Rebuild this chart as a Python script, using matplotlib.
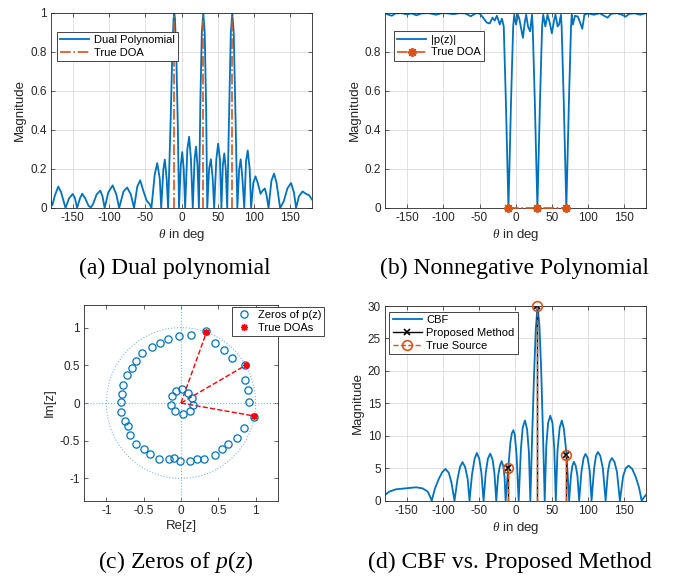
import numpy as np
import matplotlib
matplotlib.use("Agg")
import matplotlib.pyplot as plt

plt.rcParams['font.family'] = ['Liberation Sans', 'DejaVu Sans']
plt.rcParams['mathtext.fontset'] = 'custom'
plt.rcParams['mathtext.rm'] = 'Liberation Serif'
plt.rcParams['mathtext.it'] = 'Liberation Serif:italic'
plt.rcParams['axes.unicode_minus'] = False

BLUE = '#0072BD'
ORANGE = '#D95319'
DARK = '#262626'

# ---------------- data ----------------
true_doa = [-10, 30, 70]

# (a) dual polynomial magnitude
dual_theta = [-180, -178, -175, -170, -166, -160, -155, -150, -147, -144, -140, -137, -133, -128, -125,
              -122, -117, -112, -109, -106, -101, -95, -90, -86, -80, -75, -70, -65.5, -61, -57, -52,
              -48, -44, -41.5, -37, -33.5, -30, -28, -25, -23, -20.5, -18.5, -15, -13, -11, -10, -9,
              -7, -5, -3.5, -1, 1, 3, 5, 8, 10.5, 13, 15.5, 18, 20, 22, 24, 26, 28, 30, 32, 34, 35.5,
              38, 40.5, 43, 45, 48, 50.5, 53, 55, 57, 59, 61, 63, 66, 68, 70, 72, 74, 77, 79.5, 81.6,
              84, 86.5, 89, 91.3, 94, 96, 99, 102, 105, 109, 112, 115, 117.5, 120, 124, 127.6, 131,
              136, 141, 146, 151, 155, 158, 162, 167, 171, 176, 180]
dual_mag = [0.03, 0.015, 0.06, 0.11, 0.08, 0.0, 0.05, 0.072, 0.05, 0.0, 0.05, 0.073, 0.05, 0.01, 0.003,
            0.02, 0.07, 0.089, 0.06, 0.0, 0.08, 0.116, 0.07, 0.0, 0.085, 0.105, 0.07, 0.0, 0.11, 0.142,
            0.08, 0.037, 0.02, 0.0, 0.17, 0.23, 0.15, 0.0, 0.2, 0.248, 0.15, 0.0, 0.45, 0.75, 0.97, 1.0,
            0.97, 0.75, 0.4, 0.0, 0.22, 0.287, 0.2, 0.0, 0.3, 0.365, 0.25, 0.0, 0.25, 0.315, 0.22, 0.0,
            0.55, 0.9, 1.0, 0.9, 0.5, 0.0, 0.2, 0.25, 0.15, 0.0, 0.25, 0.33, 0.25, 0.0, 0.22, 0.28, 0.2,
            0.0, 0.55, 0.9, 1.0, 0.9, 0.55, 0.0, 0.2, 0.25, 0.15, 0.0, 0.24, 0.295, 0.2, 0.0, 0.13,
            0.162, 0.13, 0.073, 0.09, 0.10, 0.06, 0.0, 0.14, 0.176, 0.13, 0.0, 0.034, 0.1, 0.128, 0.08,
            0.0, 0.06, 0.085, 0.074, 0.065, 0.043]

# (b) nonnegative polynomial |p(z)|
pz_theta = [-180, -176, -171, -166, -158, -150, -144, -137, -130, -120, -110, -102, -94, -86, -78, -70,
            -62, -55, -50, -45, -40, -36, -32, -29, -26, -22, -19, -16.5, -13.6, -10, -6.4, -3.5, -2,
            0.5, 3, 5, 7, 10, 12.5, 14.5, 17, 20, 22.5, 23.5, 26.4, 30, 33.6, 36.5, 38, 41, 44, 47, 50,
            53, 55, 58, 60, 62.5, 63.5, 66.4, 70, 73.6, 76.5, 77.5, 79, 82, 86, 89, 92, 95, 100, 108,
            116, 122, 127, 132, 140, 147, 152, 157, 165, 172, 180]
pz_mag = [0.998, 0.99, 0.985, 0.997, 0.998, 0.992, 0.997, 0.987, 0.997, 0.998, 0.99, 0.998, 0.997,
          0.993, 0.998, 0.997, 0.982, 0.998, 0.997, 0.975, 0.95, 0.945, 0.975, 0.96, 0.985, 0.94, 0.97,
          0.93, 0.55, 0.0, 0.55, 0.93, 0.99, 0.94, 0.99, 0.97, 0.93, 0.872, 0.95, 0.99, 0.93, 0.905,
          0.99, 0.93, 0.55, 0.0, 0.55, 0.93, 0.99, 0.93, 0.99, 0.95, 0.895, 0.96, 0.99, 0.93, 0.94,
          0.99, 0.93, 0.55, 0.0, 0.55, 0.93, 0.99, 0.94, 0.985, 0.98, 0.95, 0.918, 0.99, 0.997, 0.99,
          0.998, 0.985, 0.975, 0.995, 0.998, 0.99, 0.98, 0.995, 0.997, 0.99, 0.998]

# (c) zeros of p(z)
zeros_re = [-0.03, 0.13, 0.33, 0.46, 0.58, 0.68, 0.86, 0.86, 0.90, 0.91, 0.98, 0.84, 0.75, 0.63, 0.55,
            0.45, 0.31, 0.21, 0.12, -0.01, -0.09, -0.16, -0.29, -0.41, -0.50, -0.60, -0.68, -0.71,
            -0.75, -0.80, -0.80, -0.79, -0.78, -0.73, -0.66, -0.60, -0.52, -0.39, -0.28, -0.17,
            0.02, -0.06, -0.12, -0.13, -0.08, 0.03, 0.12, 0.16, 0.15, 0.09]
zeros_im = [0.89, 0.90, 0.95, 0.79, 0.70, 0.60, 0.51, 0.31, 0.17, 0.02, -0.18, -0.33, -0.46, -0.54,
            -0.61, -0.69, -0.74, -0.74, -0.77, -0.77, -0.73, -0.74, -0.74, -0.68, -0.61, -0.54, -0.42,
            -0.31, -0.24, -0.12, 0.02, 0.12, 0.24, 0.37, 0.47, 0.56, 0.67, 0.74, 0.79, 0.85,
            0.18, 0.16, 0.09, -0.02, -0.10, -0.15, -0.10, -0.03, 0.07, 0.13]

# (d) CBF vs proposed
cbf_theta = [-180, -174, -165, -151, -137, -128, -121, -118, -115.5, -111, -106, -101, -96.6, -92,
             -88.5, -84.1, -80, -76.5, -73, -69.5, -66, -63.4, -60, -56.5, -53.3, -50, -47, -44, -41,
             -38, -34.8, -31.5, -29, -26.5, -24, -21.5, -19.1, -16.5, -15, -13.6, -10, -7, -5, -3, -1,
             1.5, 4.4, 7.5, 10, 13.1, 16, 18.5, 20.5, 23, 25.5, 28, 30.5, 33, 35.5, 38, 40.3, 42.5, 45,
             48, 51, 53.5, 55.6, 58, 61, 63.9, 66.5, 68.8, 70.3, 72, 74, 76.5, 78.5, 80.5, 83, 85.5,
             87.8, 91, 94, 96.6, 99.5, 102.5, 104.9, 108.5, 111, 113.7, 117, 120.5, 124.3, 127.5, 130,
             133, 136.5, 140, 144, 148.5, 152, 156, 161, 166, 170.5, 174, 177, 180]
cbf_mag = [0.88, 1.4, 1.76, 1.91, 2.07, 1.9, 1.4, 0.7, 0.0, 1.9, 3.3, 4.4, 4.9, 4.3, 2.9, 0.0, 3.3, 5.2,
           5.95, 5.2, 3.4, 0.0, 4.0, 6.4, 7.35, 6.5, 4.3, 0.0, 4.3, 6.5, 7.25, 6.3, 4.2, 0.0, 3.8, 5.4,
           6.1, 5.2, 3.5, 0.0, 5.0, 9.0, 10.4, 10.86, 10.2, 7.0, 0.0, 8.0, 11.3, 12.36, 11.0, 7.5, 0.0,
           10.0, 19.0, 26.5, 30.0, 27.0, 20.0, 10.0, 0.0, 8.5, 12.0, 13.1, 12.0, 8.0, 0.0, 7.8, 11.3,
           12.36, 11.2, 8.9, 7.0, 4.0, 0.0, 3.8, 5.4, 6.0, 5.4, 3.8, 0.0, 4.5, 6.6, 7.2, 6.6, 4.5, 0.0,
           5.0, 6.9, 7.5, 6.9, 5.0, 0.0, 4.5, 6.0, 6.57, 6.0, 4.4, 0.0, 3.8, 5.0, 5.4, 4.9, 3.6, 2.0,
           0.0, 0.5, 0.9]
source_amp = [5, 30, 7]

# ---------------- figure ----------------
fig = plt.figure(figsize=(6.81, 5.79), dpi=100)

def style(ax, grid=True):
    for s in ax.spines.values():
        s.set_color(DARK)
        s.set_linewidth(0.6)
    ax.tick_params(direction='in', length=3, width=0.5, colors=DARK, labelsize=8.5,
                   top=True, right=True, pad=3)
    if grid:
        ax.grid(True, color='#dcdcdc', linewidth=0.6)
        ax.set_axisbelow(True)

def leg(ax, handlelength=2.6, **kw):
    l = ax.legend(fancybox=False, framealpha=1, edgecolor=DARK, fontsize=8, borderpad=0.3,
                  labelspacing=0.25, handlelength=handlelength, handletextpad=0.4,
                  borderaxespad=0, **kw)
    l.get_frame().set_linewidth(0.6)
    return l

xt = [-150, -100, -50, 0, 50, 100, 150]

# (a)
axa = fig.add_axes([0.0749, 0.6408, 0.3833, 0.3368])
axa.plot(dual_theta, dual_mag, color=BLUE, lw=1.3, label='Dual Polynomial')
for i, d in enumerate(true_doa):
    axa.plot([d, d], [0, 1], color=ORANGE, ls='-.', lw=1.2, label='True DOA' if i == 0 else None)
axa.set_xlim(-180, 180)
axa.set_ylim(0, 1)
axa.set_xticks(xt)
axa.set_yticks([0, 0.2, 0.4, 0.6, 0.8, 1])
axa.set_yticklabels(['0', '0.2', '0.4', '0.6', '0.8', '1'])
axa.set_xlabel(r'$\theta$ in deg', fontsize=9.5, color=DARK, labelpad=2)
axa.set_ylabel('Magnitude', fontsize=9.5, color=DARK, labelpad=3)
style(axa)
leg(axa, loc='upper left', bbox_to_anchor=(0.023, 0.903))

# (b)
axb = fig.add_axes([0.566, 0.6408, 0.3825, 0.3368])
axb.plot(pz_theta, pz_mag, color=BLUE, lw=1.3, label='|p(z)|')
axb.plot(true_doa, [0] * len(true_doa), color=ORANGE, ls='-.', lw=1.2, marker=(8, 2, 0),
         markersize=6.5, mew=1.3, label='True DOA', clip_on=False, zorder=5)
axb.set_xlim(-180, 180)
axb.set_ylim(0, 0.999)
axb.set_xticks(xt)
axb.set_yticks([0, 0.2, 0.4, 0.6, 0.8])
axb.set_yticklabels(['0', '0.2', '0.4', '0.6', '0.8'])
axb.set_xlabel(r'$\theta$ in deg', fontsize=9.5, color=DARK, labelpad=2)
axb.set_ylabel('Magnitude', fontsize=9.5, color=DARK, labelpad=3)
style(axb)
leg(axb, numpoints=1, loc='upper left', bbox_to_anchor=(0.033, 0.906))

# (c)
axc = fig.add_axes([0.1233, 0.1347, 0.2849, 0.3385])
LB = '#7DB8E3'
t = np.linspace(0, 2 * np.pi, 400)
axc.plot(np.cos(t), np.sin(t), color=LB, ls=':', lw=0.8)
axc.axhline(0, color=LB, ls=':', lw=0.8)
axc.axvline(0, color=LB, ls=':', lw=0.8)
doa_re = [np.cos(np.deg2rad(d)) for d in true_doa]
doa_im = [np.sin(np.deg2rad(d)) for d in true_doa]
for x, y in zip(doa_re, doa_im):
    axc.plot([0, x], [0, y], color='red', ls='--', lw=1.0)
axc.plot(zeros_re, zeros_im, ls='none', marker='o', mfc='none', mec=BLUE, ms=5.2, mew=0.9,
         label='Zeros of p(z)')
axc.plot(doa_re, doa_im, ls='none', marker=(8, 2, 0), color='red', ms=5, mew=1.0, label='True DOAs')
axc.set_xlim(-1.3, 1.3)
axc.set_ylim(-1.3, 1.3)
axc.set_xticks([-1, -0.5, 0, 0.5, 1])
axc.set_yticks([-1, -0.5, 0, 0.5, 1])
axc.set_xticklabels(['-1', '-0.5', '0', '0.5', '1'])
axc.set_yticklabels(['-1', '-0.5', '0', '0.5', '1'])
axc.set_xlabel('Re[z]', fontsize=9.5, color=DARK, labelpad=2)
axc.set_ylabel('Im[z]', fontsize=9.5, color=DARK, labelpad=3)
style(axc, grid=False)
leg(axc, handlelength=1.6, numpoints=1, loc='upper left', bbox_to_anchor=(0.763, 0.99))

# (d)
axd = fig.add_axes([0.5653, 0.1352, 0.3833, 0.3363])
axd.plot(cbf_theta, cbf_mag, color=BLUE, lw=1.3, label='CBF')
for i, (d, a) in enumerate(zip(true_doa, source_amp)):
    axd.plot([d, d], [0, a], color='black', lw=1.0, label='Proposed Method' if i == 0 else None,
             marker='x', markevery=[1], ms=5, mew=1.2, zorder=4)
for i, (d, a) in enumerate(zip(true_doa, source_amp)):
    axd.plot([d, d], [0, a], color=ORANGE, ls='--', lw=1.0, label='True Source' if i == 0 else None,
             marker='o', markevery=[1], ms=7, mfc='none', mew=1.2, zorder=5, clip_on=False)
axd.set_xlim(-180, 180)
axd.set_ylim(0, 30)
axd.set_xticks(xt)
axd.set_yticks([0, 5, 10, 15, 20, 25, 30])
axd.set_xlabel(r'$\theta$ in deg', fontsize=9.5, color=DARK, labelpad=2)
axd.set_ylabel('Magnitude', fontsize=9.5, color=DARK, labelpad=3)
style(axd)
leg(axd, loc='upper left', bbox_to_anchor=(0.017, 0.97))

# captions
cap = dict(fontsize=17, family='Liberation Serif', ha='center', va='center', color='black')
fig.text(175 / 681, 1 - 268 / 579, '(a) Dual polynomial', **cap)
fig.text(515 / 681, 1 - 268 / 579, '(b) Nonnegative Polynomial', **cap)
fig.text(176 / 681, 1 - 562 / 579, '(c) Zeros of $p(z)$', **cap)
fig.text(510 / 681, 1 - 562 / 579, '(d) CBF vs. Proposed Method', **cap)

fig.savefig('out.png', dpi=100)
